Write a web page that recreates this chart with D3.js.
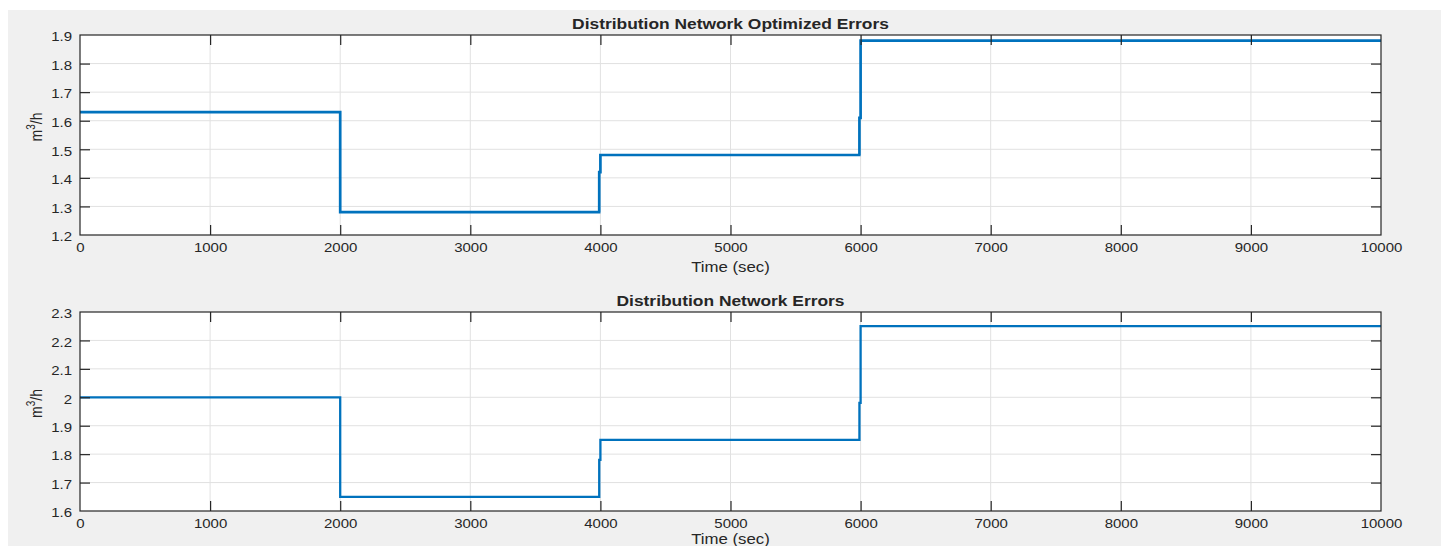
<!DOCTYPE html>
<html>
<head>
<meta charset="utf-8">
<script src="https://cdn.jsdelivr.net/npm/d3@7"></script>
<style>
  html, body { margin: 0; padding: 0; background: #ffffff; }
  svg { display: block; }
  text { font-family: "Liberation Sans", Arial, sans-serif; fill: #262626; }
</style>
</head>
<body>
<svg id="chart" width="1441" height="546"></svg>
<script>
// ---- data ----
const timeTicks = [0, 1000, 2000, 3000, 4000, 5000, 6000, 7000, 8000, 9000, 10000];
const topYTicks = [1.2, 1.3, 1.4, 1.5, 1.6, 1.7, 1.8, 1.9];
const bottomYTicks = [1.6, 1.7, 1.8, 1.9, 2, 2.1, 2.2, 2.3];
const stepTimes = [0, 2000, 4000, 6000, 10000];           // segment boundaries
const optimizedLevels = [1.63, 1.28, 1.48, 1.88];          // level of each segment
const optimizedTransients = [null, null, 1.42, 1.61];      // short spike at switch into segment
const errorLevels = [2.0, 1.65, 1.85, 2.25];
const errorTransients = [null, null, 1.78, 1.98];
const titles = ["Distribution Network Optimized Errors", "Distribution Network Errors"];
const xLabel = "Time (sec)";

const svg = d3.select("#chart");
const W = 1441, H = 546;
const SX = 1.2; // horizontal stretch of text in the reference

svg.append("rect").attr("x", 8).attr("y", 10).attr("width", W - 8).attr("height", H - 10).attr("fill", "#f0f0f0");

function buildPoints(levels, transients) {
  const pts = [];
  levels.forEach((v, i) => {
    const t0 = stepTimes[i], t1 = stepTimes[i + 1];
    if (i > 0) {
      const prev = levels[i - 1];
      if (transients[i] != null) {
        pts.push([t0, prev]);
        pts.push([t0 - 9, prev]);
        pts.push([t0 - 9, transients[i]]);
        pts.push([t0, transients[i]]);
      }
    }
    pts.push([t0, v]);
    pts.push([t1, v]);
  });
  return pts;
}

function panel(cfg) {
  const {left, right, top, bottom, yDomain, yTicks, levels, transients, title, lineWidth, xLabelOffset} = cfg;
  const x = d3.scaleLinear().domain([0, 10000]).range([left, right]);
  const y = d3.scaleLinear().domain(yDomain).range([bottom, top]);
  const g = svg.append("g");

  g.append("rect").attr("x", left).attr("y", top).attr("width", right - left).attr("height", bottom - top).attr("fill", "#ffffff");

  // grid
  g.append("g").selectAll("line").data(timeTicks.slice(1, -1)).join("line")
    .attr("x1", d => x(d)).attr("x2", d => x(d)).attr("y1", top).attr("y2", bottom)
    .attr("stroke", "#e1e1e1").attr("stroke-width", 1);
  g.append("g").selectAll("line").data(yTicks.slice(1, -1)).join("line")
    .attr("y1", d => y(d)).attr("y2", d => y(d)).attr("x1", left).attr("x2", right)
    .attr("stroke", "#e1e1e1").attr("stroke-width", 1);

  // data line
  const pts = buildPoints(levels, transients);
  g.append("path").datum(pts)
    .attr("d", d3.line().x(d => x(d[0])).y(d => y(d[1])))
    .attr("fill", "none").attr("stroke", "#0072bd").attr("stroke-width", lineWidth)
    .attr("stroke-linejoin", "miter");

  // axes
  const ax = (gen, tr) => {
    const a = g.append("g").attr("transform", tr).call(gen);
    a.select(".domain").remove();
    a.selectAll(".tick line").attr("stroke", "#262626").attr("stroke-width", 1.2);
    return a;
  };
  const xb = ax(d3.axisBottom(x).tickValues(timeTicks).tickSize(-10).tickPadding(8).tickFormat(d3.format("d")), `translate(0,${bottom})`);
  xb.selectAll("text").attr("font-size", 12.5).attr("fill", "#262626").attr("transform", `scale(${SX},1)`)
    .style("font-family", '"Liberation Sans", Arial, sans-serif');
  ax(d3.axisTop(x).tickValues(timeTicks).tickSize(-10).tickFormat(""), `translate(0,${top})`);
  const yl = ax(d3.axisLeft(y).tickValues(yTicks).tickSize(-10).tickPadding(8).tickFormat(d3.format("")), `translate(${left},0)`);
  yl.selectAll("text").attr("font-size", 12.5).attr("fill", "#262626").attr("x", -8 / SX).attr("dy", "0.46em")
    .attr("transform", `scale(${SX},1)`).style("font-family", '"Liberation Sans", Arial, sans-serif');
  ax(d3.axisRight(y).tickValues(yTicks).tickSize(-10).tickFormat(""), `translate(${right},0)`);
  // hide ticks at the box corners
  g.selectAll(".tick line").filter(function(d) {
    return d === 0 || d === 10000 || d === yDomain[0] || d === yDomain[1];
  }).attr("stroke-opacity", 0);

  // box
  g.append("rect").attr("x", left).attr("y", top).attr("width", right - left).attr("height", bottom - top)
    .attr("fill", "none").attr("stroke", "#262626").attr("stroke-width", 1.2);

  // title
  const cx = (left + right) / 2;
  g.append("text").attr("transform", `translate(${cx},${top - 6}) scale(${SX},1)`)
    .attr("text-anchor", "middle").attr("font-size", 14.5).attr("font-weight", "bold").attr("fill", "#000")
    .text(title);

  // x label
  g.append("text").attr("transform", `translate(${cx},${bottom + xLabelOffset}) scale(${SX},1)`)
    .attr("text-anchor", "middle").attr("font-size", 14).text(xLabel);

  // y label m³/h
  const yc = (top + bottom) / 2 - 8;
  const t = g.append("text").attr("transform", `translate(42,${yc}) scale(${SX},1) rotate(-90)`)
    .attr("text-anchor", "middle").attr("font-size", 14);
  t.append("tspan").text("m");
  t.append("tspan").attr("font-size", 10).attr("dy", -6).text("3");
  t.append("tspan").attr("dy", 6).text("/h");
}

panel({left: 80, right: 1381, top: 35, bottom: 235, yDomain: [1.2, 1.9], yTicks: topYTicks,
       levels: optimizedLevels, transients: optimizedTransients, title: titles[0], lineWidth: 2.7, xLabelOffset: 37});
panel({left: 80, right: 1381, top: 312, bottom: 511, yDomain: [1.6, 2.3], yTicks: bottomYTicks,
       levels: errorLevels, transients: errorTransients, title: titles[1], lineWidth: 2.3, xLabelOffset: 33});
</script>
</body>
</html>
